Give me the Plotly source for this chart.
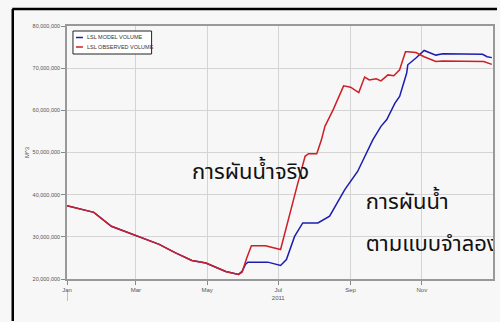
import datetime as dt
import plotly.graph_objects as go

# Lake storage volumes (m^3), 2011
model_dates = ["2011-01-01", "2011-01-24", "2011-02-08", "2011-02-23", "2011-03-03",
               "2011-03-21", "2011-04-04", "2011-04-18", "2011-04-30", "2011-05-17",
               "2011-05-28", "2011-05-31", "2011-06-03", "2011-06-05", "2011-06-22",
               "2011-07-03", "2011-07-08", "2011-07-15", "2011-07-22", "2011-08-04",
               "2011-08-14", "2011-08-27", "2011-09-07", "2011-09-20", "2011-09-27",
               "2011-10-02", "2011-10-09", "2011-10-13", "2011-10-19", "2011-10-20",
               "2011-10-27", "2011-11-03", "2011-11-13", "2011-11-19", "2011-12-23",
               "2011-12-27", "2011-12-31"]
model_volume = [37.4e6, 35.8e6, 32.5e6, 30.9e6, 30.1e6,
                28.2e6, 26.2e6, 24.4e6, 23.8e6, 21.8e6,
                21.1e6, 21.8e6, 23.5e6, 24.0e6, 24.0e6,
                23.2e6, 24.6e6, 30.1e6, 33.3e6, 33.3e6,
                34.9e6, 41.2e6, 45.5e6, 53.0e6, 56.2e6,
                57.8e6, 61.7e6, 63.3e6, 68.8e6, 70.8e6,
                72.4e6, 74.2e6, 73.1e6, 73.4e6, 73.3e6,
                72.7e6, 72.5e6]

obs_dates = ["2011-01-01", "2011-01-24", "2011-02-08", "2011-02-23", "2011-03-03",
             "2011-03-21", "2011-04-04", "2011-04-18", "2011-04-30", "2011-05-17",
             "2011-05-28", "2011-05-31", "2011-06-04", "2011-06-08", "2011-06-20",
             "2011-07-03", "2011-07-17", "2011-07-24", "2011-07-27", "2011-08-03",
             "2011-08-07", "2011-08-10", "2011-08-17", "2011-08-26", "2011-09-01",
             "2011-09-08", "2011-09-13", "2011-09-17", "2011-09-23", "2011-09-27",
             "2011-10-03", "2011-10-08", "2011-10-13", "2011-10-16", "2011-10-18",
             "2011-10-20", "2011-10-27", "2011-11-03", "2011-11-13", "2011-11-19",
             "2011-12-24", "2011-12-31"]
obs_volume = [37.4e6, 35.8e6, 32.5e6, 30.9e6, 30.1e6,
              28.2e6, 26.2e6, 24.4e6, 23.8e6, 21.8e6,
              21.1e6, 21.6e6, 25.0e6, 27.9e6, 27.9e6,
              27.0e6, 41.9e6, 49.1e6, 49.7e6, 49.7e6,
              53.0e6, 56.2e6, 60.1e6, 65.8e6, 65.5e6,
              64.2e6, 67.9e6, 67.2e6, 67.5e6, 67.0e6,
              68.4e6, 68.2e6, 69.6e6, 72.0e6, 73.9e6,
              73.9e6, 73.7e6, 72.7e6, 71.6e6, 71.7e6,
              71.6e6, 70.9e6]

y_ticks = [20e6, 30e6, 40e6, 50e6, 60e6, 70e6, 80e6]
y_tick_text = ["20,000,000", "30,000,000", "40,000,000", "50,000,000",
               "60,000,000", "70,000,000", "80,000,000"]
x_ticks = ["2011-01-01", "2011-03-01", "2011-05-01", "2011-07-01", "2011-09-01", "2011-11-01"]
x_tick_text = ["Jan", "Mar", "May", "Jul<br>2011", "Sep", "Nov"]

series_names = ["LSL MODEL VOLUME", "LSL OBSERVED VOLUME"]
series_colors = ["#1c1cb0", "#cc1f26"]
captions = ["การผันน้ำจริง", "การผันน้ำ", "ตามแบบจำลอง"]

# Plot area in pixels: left 67, right 495, top 26, bottom 279 (500x322 page)
L, R, T, B = 67, 495, 26, 279
W, H = 500, 322
X0 = dt.date(2011, 1, 1)
X_DAYS = 365
Y_MIN, Y_MAX = 20e6, 80e6


def px(xp):
    return (xp - L) / (R - L)


def py(yp):
    return (B - yp) / (B - T)


def date_at(xp):
    return (X0 + dt.timedelta(days=round(px(xp) * X_DAYS))).isoformat()


def value_at(yp):
    return Y_MIN + py(yp) * (Y_MAX - Y_MIN)


fig = go.Figure()
fig.add_trace(go.Scatter(x=model_dates, y=model_volume, mode="lines",
                         name=series_names[0],
                         line=dict(color=series_colors[0], width=1.5)))
fig.add_trace(go.Scatter(x=obs_dates, y=obs_volume, mode="lines",
                         name=series_names[1],
                         line=dict(color=series_colors[1], width=1.5)))

# Thai captions as a clipped text layer, so the long one is cut at the plot edge
caption_px = [(192, 173), (367, 203), (367, 245)]
fig.add_trace(go.Scatter(
    x=[date_at(a) for a, _ in caption_px],
    y=[value_at(b) for _, b in caption_px],
    mode="text", text=captions, textposition="middle right",
    textfont=dict(family="Noto Sans Thai, Noto Sans, Tahoma, sans-serif",
                  size=22, color="#111"),
    hoverinfo="skip", cliponaxis=True, showlegend=False))

shapes = [
    # black frame edges (left and top)
    dict(type="line", xref="paper", yref="paper", x0=px(12.5), x1=px(12.5),
         y0=py(H - 1), y1=py(9), line=dict(color="#000", width=2.5)),
    dict(type="line", xref="paper", yref="paper", x0=px(12), x1=px(W - 1),
         y0=py(9), y1=py(9), line=dict(color="#000", width=2.5)),
    # year marker below the Jan tick
    dict(type="line", xref="x", yref="paper", x0="2011-01-01", x1="2011-01-01",
         y0=py(290), y1=py(301), line=dict(color="#888", width=1)),
    # compact legend box
    dict(type="rect", xref="paper", yref="paper", x0=px(73), x1=px(152),
         y0=py(54), y1=py(31), fillcolor="#ffffff",
         line=dict(color="#222", width=1)),
]

# legend entries: short colour stroke plus series name
for i, (name, color) in enumerate(zip(series_names, series_colors)):
    yrow = 37.5 + i * 9.5
    shapes.append(dict(type="line", xref="paper", yref="paper",
                       x0=px(76), x1=px(83), y0=py(yrow), y1=py(yrow),
                       line=dict(color=color, width=1.5)))
    fig.add_annotation(x=px(85), y=py(yrow), xref="paper", yref="paper",
                       text=name, showarrow=False, xanchor="left",
                       yanchor="middle",
                       font=dict(family="Arial, Liberation Sans, sans-serif",
                                 size=5.5, color="#333"))

fig.update_layout(
    width=W, height=H,
    margin=dict(l=L, r=W - R, t=T, b=H - B),
    paper_bgcolor="#f7f7f7",
    plot_bgcolor="#f7f7f7",
    shapes=shapes,
    font=dict(family="Arial, Liberation Sans, sans-serif", color="#555", size=6),
    showlegend=False,
    xaxis=dict(range=["2011-01-01", "2012-01-01"], tickvals=x_ticks,
               ticktext=x_tick_text, showgrid=True, gridcolor="#d4d4d4",
               gridwidth=1, showline=True, linecolor="#999", linewidth=1.5,
               mirror=True, ticks="outside", ticklen=4, tickcolor="#888",
               tickfont=dict(size=6, color="#555"), zeroline=False),
    yaxis=dict(range=[Y_MIN, Y_MAX], tickvals=y_ticks, ticktext=y_tick_text,
               showgrid=True, gridcolor="#d4d4d4", gridwidth=1,
               showline=True, linecolor="#999", linewidth=1.5, mirror=True,
               ticks="outside", ticklen=4, tickcolor="#888",
               tickfont=dict(size=5.5, color="#555"), zeroline=False,
               title=dict(text="M^3", font=dict(size=6, color="#555"), standoff=3)),
)

fig.write_html("out.html")
